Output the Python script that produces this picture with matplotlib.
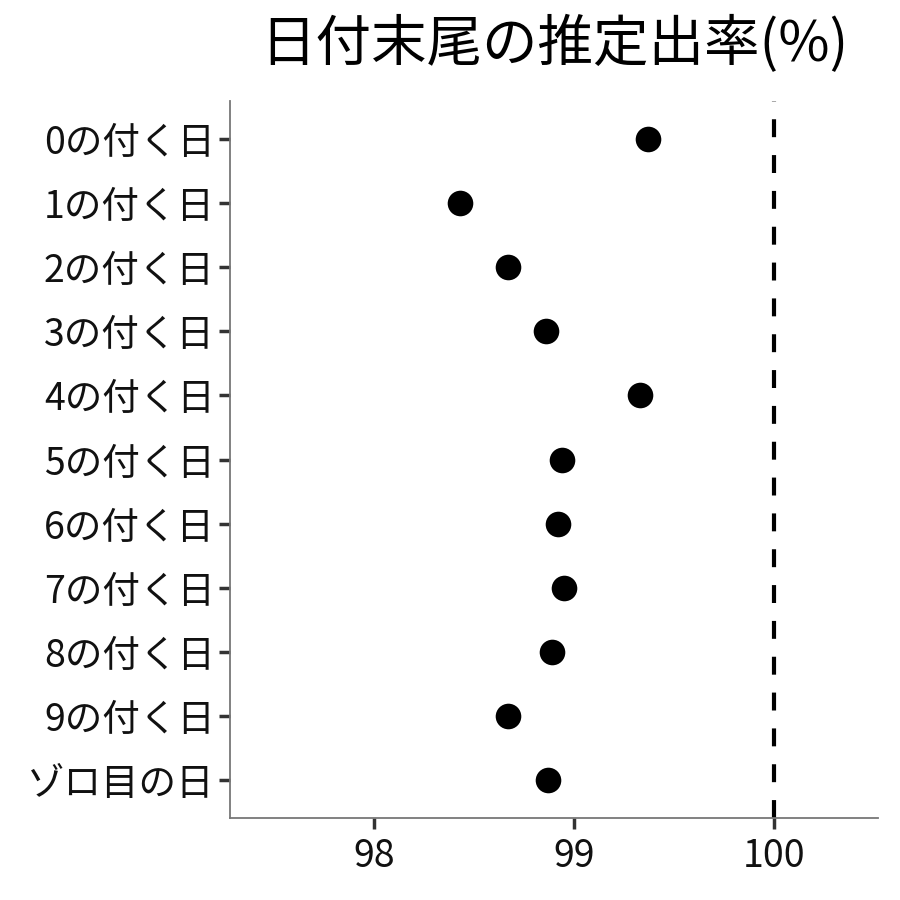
import numpy as np
import matplotlib
matplotlib.use("Agg")
import matplotlib.pyplot as plt

plt.rcParams['font.family'] = ['Noto Sans CJK JP', 'DejaVu Sans']

# Data
labels = ["0の付く日", "1の付く日", "2の付く日", "3の付く日", "4の付く日",
          "5の付く日", "6の付く日", "7の付く日", "8の付く日", "9の付く日",
          "ゾロ目の日"]
rate = [99.37, 98.43, 98.67, 98.86, 99.33, 98.94, 98.92, 98.95, 98.89, 98.67, 98.87]
ref_line = 100
xticks = [98, 99, 100]

fig = plt.figure(figsize=(9, 9), dpi=100)
ax = fig.add_axes([230/900, 1-818/900, (878-230)/900, (818-101)/900])

ypos = np.arange(len(labels))[::-1]
ax.axvline(ref_line, color="black", lw=3, linestyle=(0, (4.3, 4.3)), zorder=1)
ax.scatter(rate, ypos, s=340, color="black", zorder=3, linewidths=0)

ax.set_xlim(97.28, 100.52)
ax.set_ylim(-0.6, len(labels) - 0.4)
ax.set_yticks(ypos)
ax.set_yticklabels(labels)
ax.set_xticks(xticks)
ax.set_xticklabels([str(t) for t in xticks])

for s in ["top", "right"]:
    ax.spines[s].set_visible(False)
for s in ["left", "bottom"]:
    ax.spines[s].set_color("#777777")
    ax.spines[s].set_linewidth(1.3)
ax.tick_params(axis="both", length=8, width=2.5, color="#333333", labelsize=27,
               labelcolor="#111111")
ax.tick_params(axis="y", pad=3)
ax.tick_params(axis="x", pad=6)

fig.text(554/900, 1-45/900, "日付末尾の推定出率(%)", ha="center", va="center", fontsize=40)

fig.savefig("out.png", dpi=100)
